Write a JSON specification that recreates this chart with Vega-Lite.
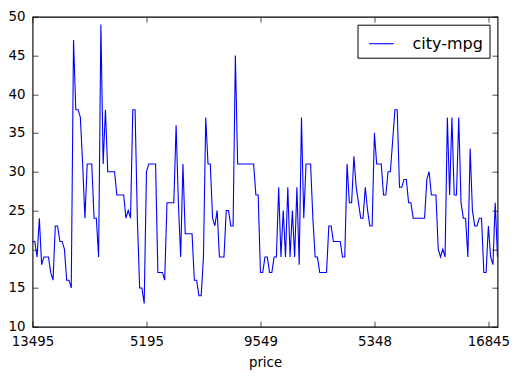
{
  "$schema": "https://vega.github.io/schema/vega-lite/v6.json",
  "autosize": {"type": "none"},
  "padding": {"left": 32.5, "top": 16.7, "right": 20.5, "bottom": 50.3},
  "width": 465,
  "height": 310,
  "background": "white",
  "config": {
    "font": "DejaVu Sans",
    "view": {"stroke": "black", "strokeWidth": 1.1},
    "axis": {
      "domain": false,
      "grid": false,
      "ticks": true,
      "tickColor": "black",
      "tickWidth": 0.7,
      "tickSize": -5.5,
      "labelFont": "DejaVu Sans",
      "labelFontSize": 13.33,
      "labelColor": "black",
      "titleFont": "DejaVu Sans",
      "titleFontSize": 13.33,
      "titleFontWeight": "normal",
      "titleColor": "black"
    },
    "legend": {
      "labelFont": "DejaVu Sans",
      "labelFontSize": 16,
      "labelColor": "black"
    }
  },
  "data": {
    "values": [
      {"price": "13495", "city-mpg": 21}, {"price": "16500", "city-mpg": 21}, {"price": "16500", "city-mpg": 19}, {"price": "13950", "city-mpg": 24}, {"price": "17450", "city-mpg": 18},
      {"price": "15250", "city-mpg": 19}, {"price": "17710", "city-mpg": 19}, {"price": "18920", "city-mpg": 19}, {"price": "23875", "city-mpg": 17}, {"price": "?", "city-mpg": 16},
      {"price": "16430", "city-mpg": 23}, {"price": "16925", "city-mpg": 23}, {"price": "20970", "city-mpg": 21}, {"price": "21105", "city-mpg": 21}, {"price": "24565", "city-mpg": 20},
      {"price": "30760", "city-mpg": 16}, {"price": "41315", "city-mpg": 16}, {"price": "36880", "city-mpg": 15}, {"price": "5151", "city-mpg": 47}, {"price": "6295", "city-mpg": 38},
      {"price": "6575", "city-mpg": 38}, {"price": "5572", "city-mpg": 37}, {"price": "6377", "city-mpg": 31}, {"price": "7957", "city-mpg": 24}, {"price": "6229", "city-mpg": 31},
      {"price": "6692", "city-mpg": 31}, {"price": "7609", "city-mpg": 31}, {"price": "8558", "city-mpg": 24}, {"price": "8921", "city-mpg": 24}, {"price": "12964", "city-mpg": 19},
      {"price": "6479", "city-mpg": 49}, {"price": "6855", "city-mpg": 31}, {"price": "5399", "city-mpg": 38}, {"price": "6529", "city-mpg": 30}, {"price": "7129", "city-mpg": 30},
      {"price": "7295", "city-mpg": 30}, {"price": "7295", "city-mpg": 30}, {"price": "7895", "city-mpg": 27}, {"price": "9095", "city-mpg": 27}, {"price": "8845", "city-mpg": 27},
      {"price": "10295", "city-mpg": 27}, {"price": "12945", "city-mpg": 24}, {"price": "10345", "city-mpg": 25}, {"price": "6785", "city-mpg": 24}, {"price": "?", "city-mpg": 38},
      {"price": "?", "city-mpg": 38}, {"price": "11048", "city-mpg": 24}, {"price": "32250", "city-mpg": 15}, {"price": "35550", "city-mpg": 15}, {"price": "36000", "city-mpg": 13},
      {"price": "5195", "city-mpg": 30}, {"price": "6095", "city-mpg": 31}, {"price": "6795", "city-mpg": 31}, {"price": "6695", "city-mpg": 31}, {"price": "7395", "city-mpg": 31},
      {"price": "10945", "city-mpg": 17}, {"price": "11845", "city-mpg": 17}, {"price": "13645", "city-mpg": 17}, {"price": "15645", "city-mpg": 16}, {"price": "8845", "city-mpg": 26},
      {"price": "8495", "city-mpg": 26}, {"price": "10595", "city-mpg": 26}, {"price": "10245", "city-mpg": 26}, {"price": "10795", "city-mpg": 36}, {"price": "11245", "city-mpg": 26},
      {"price": "18280", "city-mpg": 19}, {"price": "18344", "city-mpg": 31}, {"price": "25552", "city-mpg": 22}, {"price": "28248", "city-mpg": 22}, {"price": "28176", "city-mpg": 22},
      {"price": "31600", "city-mpg": 22}, {"price": "34184", "city-mpg": 16}, {"price": "35056", "city-mpg": 16}, {"price": "40960", "city-mpg": 14}, {"price": "45400", "city-mpg": 14},
      {"price": "16503", "city-mpg": 19}, {"price": "5389", "city-mpg": 37}, {"price": "6189", "city-mpg": 31}, {"price": "6669", "city-mpg": 31}, {"price": "7689", "city-mpg": 24},
      {"price": "9959", "city-mpg": 23}, {"price": "8499", "city-mpg": 25}, {"price": "12629", "city-mpg": 19}, {"price": "14869", "city-mpg": 19}, {"price": "14489", "city-mpg": 19},
      {"price": "6989", "city-mpg": 25}, {"price": "8189", "city-mpg": 25}, {"price": "9279", "city-mpg": 23}, {"price": "9279", "city-mpg": 23}, {"price": "5499", "city-mpg": 45},
      {"price": "7099", "city-mpg": 31}, {"price": "6649", "city-mpg": 31}, {"price": "6849", "city-mpg": 31}, {"price": "7349", "city-mpg": 31}, {"price": "7299", "city-mpg": 31},
      {"price": "7799", "city-mpg": 31}, {"price": "7499", "city-mpg": 31}, {"price": "7999", "city-mpg": 31}, {"price": "8249", "city-mpg": 27}, {"price": "8949", "city-mpg": 27},
      {"price": "9549", "city-mpg": 17}, {"price": "13499", "city-mpg": 17}, {"price": "14399", "city-mpg": 19}, {"price": "13499", "city-mpg": 19}, {"price": "17199", "city-mpg": 17},
      {"price": "19699", "city-mpg": 17}, {"price": "18399", "city-mpg": 19}, {"price": "11900", "city-mpg": 19}, {"price": "13200", "city-mpg": 28}, {"price": "12440", "city-mpg": 19},
      {"price": "13860", "city-mpg": 25}, {"price": "15580", "city-mpg": 19}, {"price": "16900", "city-mpg": 28}, {"price": "16695", "city-mpg": 19}, {"price": "17075", "city-mpg": 25},
      {"price": "16630", "city-mpg": 19}, {"price": "17950", "city-mpg": 28}, {"price": "18150", "city-mpg": 18}, {"price": "5572", "city-mpg": 37}, {"price": "7957", "city-mpg": 24},
      {"price": "6229", "city-mpg": 31}, {"price": "6692", "city-mpg": 31}, {"price": "7609", "city-mpg": 31}, {"price": "8921", "city-mpg": 24}, {"price": "12764", "city-mpg": 19},
      {"price": "22018", "city-mpg": 19}, {"price": "32528", "city-mpg": 17}, {"price": "34028", "city-mpg": 17}, {"price": "37028", "city-mpg": 17}, {"price": "?", "city-mpg": 17},
      {"price": "9295", "city-mpg": 23}, {"price": "9895", "city-mpg": 23}, {"price": "11850", "city-mpg": 21}, {"price": "12170", "city-mpg": 21}, {"price": "15040", "city-mpg": 21},
      {"price": "15510", "city-mpg": 21}, {"price": "18150", "city-mpg": 19}, {"price": "18620", "city-mpg": 19}, {"price": "5118", "city-mpg": 31}, {"price": "7053", "city-mpg": 26},
      {"price": "7603", "city-mpg": 26}, {"price": "7126", "city-mpg": 32}, {"price": "7775", "city-mpg": 28}, {"price": "9960", "city-mpg": 26}, {"price": "9233", "city-mpg": 24},
      {"price": "11259", "city-mpg": 24}, {"price": "7463", "city-mpg": 28}, {"price": "10198", "city-mpg": 25}, {"price": "8013", "city-mpg": 23}, {"price": "11694", "city-mpg": 23},
      {"price": "5348", "city-mpg": 35}, {"price": "6338", "city-mpg": 31}, {"price": "6488", "city-mpg": 31}, {"price": "6918", "city-mpg": 31}, {"price": "7898", "city-mpg": 27},
      {"price": "8778", "city-mpg": 27}, {"price": "6938", "city-mpg": 30}, {"price": "7198", "city-mpg": 30}, {"price": "7898", "city-mpg": 34}, {"price": "7788", "city-mpg": 38},
      {"price": "7738", "city-mpg": 38}, {"price": "8358", "city-mpg": 28}, {"price": "9258", "city-mpg": 28}, {"price": "8058", "city-mpg": 29}, {"price": "8238", "city-mpg": 29},
      {"price": "9298", "city-mpg": 26}, {"price": "9538", "city-mpg": 26}, {"price": "8449", "city-mpg": 24}, {"price": "9639", "city-mpg": 24}, {"price": "9989", "city-mpg": 24},
      {"price": "11199", "city-mpg": 24}, {"price": "11549", "city-mpg": 24}, {"price": "17669", "city-mpg": 24}, {"price": "8948", "city-mpg": 29}, {"price": "10698", "city-mpg": 30},
      {"price": "9988", "city-mpg": 27}, {"price": "10898", "city-mpg": 27}, {"price": "11248", "city-mpg": 27}, {"price": "16558", "city-mpg": 20}, {"price": "15998", "city-mpg": 19},
      {"price": "15690", "city-mpg": 20}, {"price": "15750", "city-mpg": 19}, {"price": "7775", "city-mpg": 37}, {"price": "7975", "city-mpg": 27}, {"price": "7995", "city-mpg": 37},
      {"price": "8195", "city-mpg": 27}, {"price": "8495", "city-mpg": 27}, {"price": "9495", "city-mpg": 37}, {"price": "9995", "city-mpg": 26}, {"price": "11595", "city-mpg": 24},
      {"price": "9980", "city-mpg": 24}, {"price": "13295", "city-mpg": 19}, {"price": "13845", "city-mpg": 33}, {"price": "12290", "city-mpg": 25}, {"price": "12940", "city-mpg": 23},
      {"price": "13415", "city-mpg": 23}, {"price": "15985", "city-mpg": 24}, {"price": "16515", "city-mpg": 24}, {"price": "18420", "city-mpg": 17}, {"price": "18950", "city-mpg": 17},
      {"price": "16845", "city-mpg": 23}, {"price": "19045", "city-mpg": 19}, {"price": "21485", "city-mpg": 18}, {"price": "22470", "city-mpg": 26}, {"price": "22625", "city-mpg": 19}
    ]
  },
  "transform": [{"window": [{"op": "row_number", "as": "n"}]}],
  "layer": [
    {
      "mark": {"type": "line", "strokeWidth": 1.1, "interpolate": "linear"},
      "encoding": {
        "x": {
          "field": "n", "type": "quantitative",
          "scale": {"domain": [1, 205], "nice": false, "zero": false},
          "axis": {
            "orient": "bottom",
            "values": [1, 51, 101, 151, 201],
            "labelExpr": "datum.value == 1 ? '13495' : datum.value == 51 ? '5195' : datum.value == 101 ? '9549' : datum.value == 151 ? '5348' : '16845'",
            "labelPadding": 13,
            "labelFlush": false,
            "title": "price",
            "titlePadding": 8
          }
        },
        "y": {
          "field": "city-mpg", "type": "quantitative",
          "scale": {"domain": [10, 50], "nice": false, "zero": false},
          "axis": {
            "orient": "left",
            "values": [10, 15, 20, 25, 30, 35, 40, 45, 50],
            "labelPadding": 13,
            "title": null
          }
        },
        "color": {
          "datum": "city-mpg",
          "scale": {"range": ["#0000ff"]},
          "legend": {
            "title": null,
            "orient": "top-right",
            "offset": 8,
            "padding": 6,
            "symbolType": "stroke",
            "symbolSize": 595,
            "symbolStrokeWidth": 1.1,
            "symbolOffset": 5,
            "labelOffset": 18,
            "strokeColor": "black",
            "fillColor": "white",
            "cornerRadius": 0
          }
        }
      }
    },
    {
      "mark": {"type": "line", "strokeOpacity": 0},
      "encoding": {
        "x": {
          "field": "n", "type": "quantitative",
          "axis": {"orient": "top", "values": [1, 51, 101, 151, 201], "labels": false, "title": null}
        },
        "y": {
          "field": "city-mpg", "type": "quantitative",
          "axis": {"orient": "right", "values": [10, 15, 20, 25, 30, 35, 40, 45, 50], "labels": false, "title": null}
        }
      }
    }
  ],
  "resolve": {"axis": {"x": "independent", "y": "independent"}}
}
